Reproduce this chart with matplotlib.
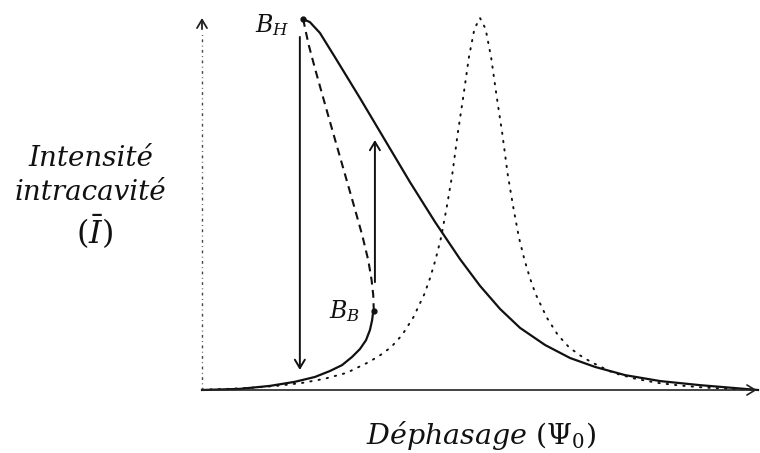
import matplotlib
matplotlib.use("Agg")
import matplotlib.pyplot as plt

plt.rcParams['mathtext.fontset'] = 'dejavuserif'

# resonance of the empty cavity (dotted)
lor_x = [0.0, 0.5, 1.0, 1.4, 1.8, 2.2, 2.6, 3.0, 3.2, 3.4, 3.6, 3.8, 4.0, 4.1,
         4.2, 4.3, 4.4, 4.5, 4.6, 4.7, 4.8, 4.9, 5.0, 5.1, 5.2, 5.3, 5.4, 5.5,
         5.6, 5.7, 5.8, 5.9, 6.0, 6.2, 6.4, 6.6, 6.8, 7.0, 7.4, 7.8, 8.2, 8.6,
         9.0, 9.5, 10.0]
lor_y = [0.001, 0.003, 0.007, 0.012, 0.019, 0.030, 0.046, 0.075, 0.093, 0.115,
         0.148, 0.195, 0.258, 0.300, 0.350, 0.410, 0.490, 0.578, 0.690, 0.789,
         0.894, 0.971, 1.0, 0.971, 0.894, 0.789, 0.690, 0.578, 0.490, 0.410,
         0.350, 0.300, 0.258, 0.195, 0.148, 0.115, 0.093, 0.075, 0.046, 0.030,
         0.019, 0.012, 0.007, 0.003, 0.001]

# lower stable branch up to B_B
low_x = [0.0, 0.68, 1.22, 1.67, 2.03, 2.30, 2.52, 2.70, 2.84, 2.95, 3.02, 3.06,
         3.08]
low_y = [0.0, 0.003, 0.011, 0.022, 0.035, 0.051, 0.067, 0.089, 0.110, 0.134,
         0.161, 0.188, 0.212]

# unstable branch between B_B and B_H (dashed)
mid_x = [3.09, 3.08, 3.05, 2.99, 2.88, 2.73, 2.55, 2.37, 2.19, 2.04, 1.92, 1.86,
         1.82]
mid_y = [0.212, 0.255, 0.296, 0.349, 0.417, 0.497, 0.591, 0.685, 0.780, 0.860,
         0.927, 0.968, 0.997]

# upper stable branch from B_H
up_x = [1.82, 1.94, 2.12, 2.39, 2.84, 3.29, 3.74, 4.19, 4.64, 5.00, 5.36, 5.72,
        6.17, 6.62, 7.07, 7.61, 8.24, 8.96, 10.0]
up_y = [0.997, 0.989, 0.960, 0.895, 0.785, 0.672, 0.559, 0.452, 0.352, 0.280,
        0.218, 0.167, 0.121, 0.086, 0.062, 0.040, 0.024, 0.013, 0.0]

B_H = (1.82, 0.997)
B_B = (3.09, 0.212)

# jumps: down from B_H, up from B_B
jump_down = (1.76, 0.949, 0.054)
jump_up = (3.11, 0.29, 0.672)

fig = plt.figure(figsize=(7.6, 4.53), dpi=100)
ax = fig.add_axes([202 / 760, 63 / 453, 556 / 760, 372 / 453])
ax.set_xlim(0, 10)
ax.set_ylim(0, 1)
ax.axis('off')

ink = '#111111'
ax.plot(lor_x, lor_y, color=ink, lw=1.4, linestyle=(0, (0.7, 3.6)),
        dash_capstyle='round', clip_on=False)
ax.plot(low_x, low_y, color=ink, lw=1.6, clip_on=False)
ax.plot(up_x, up_y, color=ink, lw=1.6, clip_on=False)
ax.plot(mid_x, mid_y, color=ink, lw=1.5, linestyle=(0, (3.8, 2.6)), clip_on=False)
ax.plot(*zip(B_H, B_B), 'o', color=ink, ms=3.5, clip_on=False)

arrow = dict(arrowstyle='->,head_length=0.3,head_width=0.18', color=ink,
             lw=1.4, shrinkA=0, shrinkB=0, mutation_scale=20)
ax.annotate('', xy=(jump_down[0], jump_down[2]), xytext=(jump_down[0], jump_down[1]),
            arrowprops=arrow)
ax.annotate('', xy=(jump_up[0], jump_up[2]), xytext=(jump_up[0], jump_up[1]),
            arrowprops=arrow)

# axes: solid x axis, faint broken y axis with its own head
ax.annotate('', xy=(9.98, 0), xytext=(0, 0),
            arrowprops=dict(arrow, lw=1.2, color='#222222'), annotation_clip=False)
ax.plot([0, 0], [0, 0.96], color='#444444', lw=1.0,
        linestyle=(0, (2, 2.5, 0.6, 2.5)), clip_on=False)
ax.annotate('', xy=(0, 1.0), xytext=(0, 0.97),
            arrowprops=dict(arrow, lw=1.3, color='#222222'), annotation_clip=False)

serif = dict(family='DejaVu Serif', style='italic', color=ink)
ax.text(1.58, 0.962, r'$B_H$', fontsize=17, ha='right', va='baseline', color=ink)
ax.text(2.84, 0.194, r'$B_B$', fontsize=17, ha='right', va='baseline', color=ink)

ax.text(-2.0, 0.602, 'Intensité', fontsize=20, ha='center', va='baseline',
        clip_on=False, **serif)
ax.text(-2.0, 0.511, 'intracavité', fontsize=20, ha='center', va='baseline',
        clip_on=False, **serif)
ax.text(-1.94, 0.425, r'$(\bar{I})$', fontsize=23, ha='center', va='center',
        clip_on=False, color=ink)
ax.text(5.02, -0.145, r'Déphasage $(\Psi_0)$', fontsize=20.5, ha='center',
        va='baseline', clip_on=False, **serif)

fig.savefig('out.png', dpi=100)
